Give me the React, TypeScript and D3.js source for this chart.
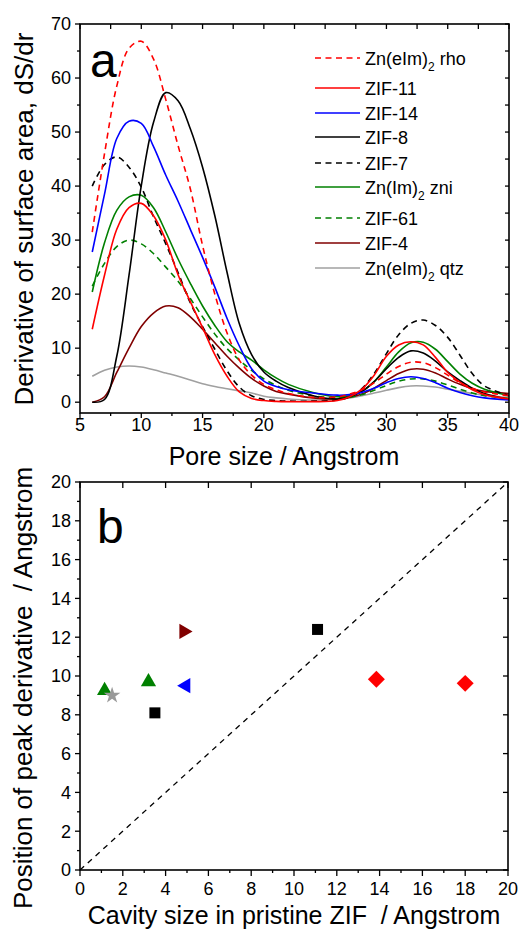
import React from "react";
import * as d3 from "d3";

// ---------- Panel a data ----------
const poreSize = [6, 7, 8, 9, 10, 11, 12, 13, 14, 15, 16, 17, 18, 19, 20, 21, 22, 24, 26, 27, 28, 29, 30, 31, 32, 33, 34, 35, 36, 37, 38, 40];

const rhoValues = [31.5, 46, 58.5, 65.5, 66.8, 63.5, 56, 47.5, 39.5, 29, 20, 12.8, 7.8, 5, 3.3, 2.3, 1.6, 0.9, 1.0, 1.5, 2.3, 3.6, 5.2, 6.6, 7.4, 7.3, 6.4, 5.0, 3.6, 2.6, 1.9, 1.2];
const zif11Values = [13.5, 23.5, 32, 36, 36.8, 34.5, 30, 23.6, 18.6, 13.8, 8.8, 4.8, 1.9, 0.7, 0.3, 0.15, 0.1, 0.1, 0.3, 1.0, 2.4, 5.0, 8.5, 10.6, 11.2, 10.6, 8.3, 5.5, 3.7, 2.3, 1.4, 0.6];
const zif14Values = [27.8, 38.5, 48.8, 52, 51.6, 47.3, 42, 37.2, 32, 26.8, 21.3, 15.5, 10.4, 6.2, 3.9, 2.9, 2.3, 1.7, 1.3, 1.4, 1.8, 2.6, 3.6, 4.4, 4.7, 4.4, 3.6, 2.6, 1.8, 1.2, 0.8, 0.4];
const zif8Values = [0, 0.5, 8.5, 23.5, 40.1, 51.8, 57.3, 55.8, 50.6, 43.5, 34.5, 24, 14.5, 8.8, 5.6, 3.9, 2.7, 1.2, 0.6, 1.0, 2.0, 3.8, 6.2, 8.3, 9.5, 9.1, 7.6, 5.6, 4.0, 2.6, 1.6, 0.5];
const zif7Values = [40, 44, 45.4, 43.5, 39.8, 34.3, 29.3, 24, 18.4, 14, 9.8, 5.8, 2.8, 1.2, 0.5, 0.3, 0.2, 0.2, 0.4, 1.0, 2.5, 5.3, 9, 12.5, 14.6, 15.2, 14.2, 12, 8.7, 5.3, 3, 1.2];
const zniValues = [20.4, 29.5, 35.5, 38, 38.3, 36, 31.5, 26.5, 22, 17.8, 14.2, 11.2, 9.3, 7.8, 6.0, 4.5, 3.3, 1.8, 1.0, 1.2, 2.0, 3.8, 6.5, 9.3, 11, 11.1, 9.8, 7.5, 5.2, 3.5, 2.4, 1.2];
const zif61Values = [21.5, 25.7, 28.8, 30, 29.3, 27.5, 25, 22.4, 19.2, 15.8, 12.6, 9.9, 7.8, 5.9, 4.3, 3.1, 2.2, 1.2, 0.8, 0.9, 1.4, 2.2, 3.1, 3.9, 4.3, 4.3, 3.9, 3.2, 2.4, 1.7, 1.2, 0.7];
const zif4Values = [0, 1.0, 5.5, 10, 14, 16.5, 17.8, 17.5, 15.8, 13.5, 11, 8.5, 6.3, 4.4, 3.0, 2.0, 1.5, 0.8, 0.6, 0.9, 1.5, 2.6, 4.0, 5.3, 6.1, 6.1, 5.4, 4.3, 3.3, 2.5, 2.0, 1.6];
const qtzValues = [4.8, 5.9, 6.5, 6.7, 6.5, 6.0, 5.4, 4.8, 4.1, 3.4, 2.9, 2.5, 2.1, 1.7, 1.1, 0.8, 0.6, 0.4, 0.5, 0.8, 1.2, 1.7, 2.2, 2.7, 3.0, 3.0, 2.8, 2.4, 2.0, 1.6, 1.3, 0.9];

const seriesNames = ["rho", "ZIF-11", "ZIF-14", "ZIF-8", "ZIF-7", "zni", "ZIF-61", "ZIF-4", "qtz"];

// ---------- Panel b data ----------
const cavitySize = [1.15, 1.5, 3.2, 3.5, 4.95, 4.85, 11.1, 13.85, 18.0];
const peakPosition = [9.25, 9.0, 9.7, 8.1, 9.5, 12.3, 12.4, 9.83, 9.62];

// ---------- Styles ----------
const SERIES_STYLE: Record<string, { color: string; dash?: string }> = {
  rho: { color: "#ff0000", dash: "6,4.5" },
  "ZIF-11": { color: "#ff0000" },
  "ZIF-14": { color: "#0000ff" },
  "ZIF-8": { color: "#000000" },
  "ZIF-7": { color: "#000000", dash: "6,4.5" },
  zni: { color: "#008000" },
  "ZIF-61": { color: "#008000", dash: "6,4.5" },
  "ZIF-4": { color: "#800000" },
  qtz: { color: "#a0a0a0" },
};
const MARKER_STYLE = [
  { shape: "triUp", color: "#008000" },
  { shape: "star", color: "#999999" },
  { shape: "triUp", color: "#008000" },
  { shape: "square", color: "#000000" },
  { shape: "triLeft", color: "#0000ff" },
  { shape: "triRight", color: "#800000" },
  { shape: "square", color: "#000000" },
  { shape: "diamond", color: "#ff0000" },
  { shape: "diamond", color: "#ff0000" },
];

const FONT = "Arial, 'Liberation Sans', Helvetica, sans-serif";

export default function App() {
  const values = [rhoValues, zif11Values, zif14Values, zif8Values, zif7Values, zniValues, zif61Values, zif4Values, qtzValues];

  // Panel a scales
  const xA = d3.scaleLinear().domain([5, 40]).range([80, 509]);
  const yA = d3.scaleLinear().domain([-2, 70]).range([413, 24]);
  // Panel b scales
  const xB = d3.scaleLinear().domain([0, 20]).range([80, 508]);
  const yB = d3.scaleLinear().domain([0, 20]).range([870, 482]);

  const line = d3
    .line<[number, number]>()
    .x((d) => xA(d[0]))
    .y((d) => yA(d[1]))
    .curve(d3.curveCatmullRom.alpha(0.5));

  const frameW = 1.6;
  const tickStroke = 1.3;

  const legendRows = [
    { key: "rho", y: 58, label: ["Zn(eIm)", "2", " rho"] },
    { key: "ZIF-11", y: 88, label: ["ZIF-11"] },
    { key: "ZIF-14", y: 113, label: ["ZIF-14"] },
    { key: "ZIF-8", y: 137, label: ["ZIF-8"] },
    { key: "ZIF-7", y: 163, label: ["ZIF-7"] },
    { key: "zni", y: 187, label: ["Zn(Im)", "2", " zni"] },
    { key: "ZIF-61", y: 218, label: ["ZIF-61"] },
    { key: "ZIF-4", y: 243, label: ["ZIF-4"] },
    { key: "qtz", y: 268, label: ["Zn(eIm)", "2", " qtz"] },
  ];

  const markerPath = (shape: string) => {
    switch (shape) {
      case "triUp":
      case "triLeft":
      case "triRight":
        return d3.symbol().type(d3.symbolTriangle).size(100)();
      case "star":
        return d3.symbol().type(d3.symbolStar).size(85)();
      case "square":
        return d3.symbol().type(d3.symbolSquare).size(121)();
      case "diamond":
        return d3.symbol().type(d3.symbolSquare).size(144)();
      default:
        return "";
    }
  };
  const markerRot = (shape: string) =>
    shape === "triLeft" ? -90 : shape === "triRight" ? 90 : shape === "diamond" ? 45 : 0;

  // ticks panel a
  const aLeftMajor = d3.range(0, 71, 10);
  const aLeftMinor = d3.range(5, 70, 10);
  const aRight = d3.range(0, 71, 5);
  const aBottomMajor = d3.range(5, 41, 5);
  const aBottomMinor = d3.range(7.5, 40, 5);
  const aTop = d3.range(5, 40.1, 2.5);
  // ticks panel b
  const bMajor = d3.range(0, 21, 2);
  const bMinor = d3.range(1, 20, 2);

  return (
    <svg
      width={519}
      height={929}
      style={{ position: "absolute", left: 0, top: 0, background: "#fff" }}
      fontFamily={FONT}
    >
      <rect x={0} y={0} width={519} height={929} fill="#fff" />
      {/* ---------------- Panel a ---------------- */}
      <defs>
        <clipPath id="clipA">
          <rect x={80} y={24} width={429} height={389} />
        </clipPath>
      </defs>
      <g clipPath="url(#clipA)">
        {values.map((vals, i) => {
          const st = SERIES_STYLE[seriesNames[i]];
          const pts = poreSize.map((x, j) => [x, vals[j]] as [number, number]);
          return (
            <path
              key={seriesNames[i]}
              d={line(pts) || ""}
              fill="none"
              stroke={st.color}
              strokeWidth={1.6}
              strokeDasharray={st.dash}
            />
          );
        }).reverse()}
      </g>
      <rect x={80} y={24} width={429} height={389} fill="none" stroke="#000" strokeWidth={frameW} />
      {aLeftMajor.map((v) => (
        <g key={"alm" + v}>
          <line x1={80} x2={75} y1={yA(v)} y2={yA(v)} stroke="#000" strokeWidth={tickStroke} />
          <text x={71} y={yA(v) + 6.3} fontSize={18} textAnchor="end">{v}</text>
        </g>
      ))}
      {aLeftMinor.map((v) => (
        <line key={"aln" + v} x1={80} x2={77} y1={yA(v)} y2={yA(v)} stroke="#000" strokeWidth={tickStroke} />
      ))}
      {aRight.map((v) => (
        <line key={"ar" + v} x1={509} x2={505} y1={yA(v)} y2={yA(v)} stroke="#000" strokeWidth={tickStroke} />
      ))}
      {aBottomMajor.map((v) => (
        <g key={"abm" + v}>
          <line x1={xA(v)} x2={xA(v)} y1={413} y2={418} stroke="#000" strokeWidth={tickStroke} />
          <text x={xA(v)} y={431} fontSize={18} textAnchor="middle">{v}</text>
        </g>
      ))}
      {aBottomMinor.map((v) => (
        <line key={"abn" + v} x1={xA(v)} x2={xA(v)} y1={413} y2={416} stroke="#000" strokeWidth={tickStroke} />
      ))}
      {aTop.map((v) => (
        <line key={"at" + v} x1={xA(v)} x2={xA(v)} y1={24} y2={29} stroke="#000" strokeWidth={tickStroke} />
      ))}
      <text x={90} y={77} fontSize={48}>a</text>
      <text x={284} y={465} fontSize={25} textAnchor="middle">Pore size / Angstrom</text>
      <text transform="translate(33,219) rotate(-90)" fontSize={26} textAnchor="middle">
        Derivative of surface area, dS/dr
      </text>
      {/* legend */}
      {legendRows.map((r) => {
        const st = SERIES_STYLE[r.key];
        return (
          <g key={"lg" + r.key}>
            <line x1={315} x2={360} y1={r.y} y2={r.y} stroke={st.color} strokeWidth={1.6} strokeDasharray={st.dash} />
            <text x={365} y={r.y + 6.5} fontSize={18}>
              {r.label[0]}
              {r.label.length > 1 && (
                <>
                  <tspan dy={6} fontSize={12}>{r.label[1]}</tspan>
                  <tspan dy={-6}>{r.label[2]}</tspan>
                </>
              )}
            </text>
          </g>
        );
      })}

      {/* ---------------- Panel b ---------------- */}
      <line
        x1={xB(0)}
        y1={yB(0)}
        x2={xB(20)}
        y2={yB(20)}
        stroke="#000"
        strokeWidth={1.3}
        strokeDasharray="5.5,5"
      />
      {cavitySize.map((cx, i) => {
        const st = MARKER_STYLE[i];
        return (
          <path
            key={"m" + i}
            d={markerPath(st.shape) || ""}
            transform={`translate(${xB(cx)},${yB(peakPosition[i])}) rotate(${markerRot(st.shape)})`}
            fill={st.color}
          />
        );
      })}
      <rect x={80} y={482} width={428} height={388} fill="none" stroke="#000" strokeWidth={frameW} />
      {bMajor.map((v) => (
        <g key={"blm" + v}>
          <line x1={80} x2={75} y1={yB(v)} y2={yB(v)} stroke="#000" strokeWidth={tickStroke} />
          <text x={71} y={yB(v) + 6.3} fontSize={18} textAnchor="end">{v}</text>
          <line x1={xB(v)} x2={xB(v)} y1={870} y2={876} stroke="#000" strokeWidth={tickStroke} />
          <text x={xB(v)} y={895} fontSize={18} textAnchor="middle">{v}</text>
          <line x1={508} x2={503} y1={yB(v)} y2={yB(v)} stroke="#000" strokeWidth={tickStroke} />
          <line x1={xB(v)} x2={xB(v)} y1={482} y2={488} stroke="#000" strokeWidth={tickStroke} />
        </g>
      ))}
      {bMinor.map((v) => (
        <g key={"bln" + v}>
          <line x1={80} x2={77} y1={yB(v)} y2={yB(v)} stroke="#000" strokeWidth={tickStroke} />
          <line x1={xB(v)} x2={xB(v)} y1={870} y2={873} stroke="#000" strokeWidth={tickStroke} />
        </g>
      ))}
      <text x={97} y={543} fontSize={48}>b</text>
      <text x={294} y={924} fontSize={25} textAnchor="middle" style={{ whiteSpace: "pre" }}>
        {"Cavity size in pristine ZIF  / Angstrom"}
      </text>
      <text transform="translate(32,688) rotate(-90)" fontSize={26} textAnchor="middle" style={{ whiteSpace: "pre" }}>
        {"Position of peak derivative  / Angstrom"}
      </text>
    </svg>
  );
}
